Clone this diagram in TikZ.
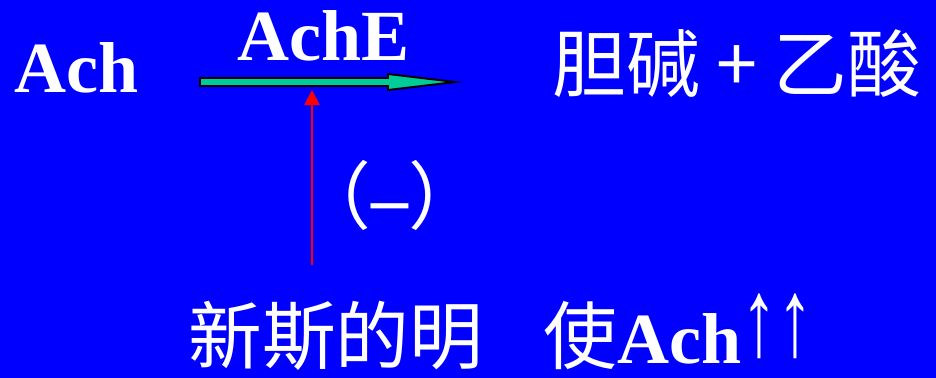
\documentclass[tikz,border=0pt]{standalone}
\usepackage{fontspec}
\setmainfont{Liberation Serif}
\newfontfamily\cjk{Noto Sans CJK SC}
\usepackage{xcolor}
\usepackage{graphicx}
\usepackage{tikz}
\usetikzlibrary{positioning}
\usetikzlibrary{arrows.meta}
\pgfdeclarelayer{backlayer}
\pgfdeclarelayer{nodelayer}
\pgfdeclarelayer{edgelayer}
\pgfsetlayers{backlayer,nodelayer,edgelayer,main}
\definecolor{slideblue}{RGB}{0,0,255}
\definecolor{arrowgreen}{RGB}{0,204,153}
\newcommand{\latbig}{\fontsize{41}{50}\selectfont\bfseries}
\newcommand{\cjkbig}{\fontsize{42}{50}\selectfont\cjk}
\newcommand{\uparrows}{\raisebox{0.15cm}{\scalebox{0.85}[1.3]{\rmfamily\fontsize{48}{56}\selectfont ↑↑}}}
\tikzset{
    none/.style = {inner sep=0pt, text=white},
    fatarrow/.style = {fill=arrowgreen, draw=black, line width=1.1pt, line join=miter},
    inhibit/.style = {draw=red, line width=1.1pt, -{Triangle[length=0.3cm,width=0.3cm]}}
}

\begin{document}
\begin{tikzpicture}[scale=2]
  \begin{pgfonlayer}{backlayer}
    \fill[slideblue] (0,0) rectangle (9.36,-3.78);
  \end{pgfonlayer}
  \useasboundingbox (0,0) rectangle (9.36,-3.78);
  \begin{pgfonlayer}{nodelayer}
    \node [style=none, anchor=base west] (0) at (0.14, -0.92) {\latbig Ach};
    \node [style=none, anchor=base west] (1) at (2.37, -0.60) {\latbig AchE};
    \node [style=none, anchor=base west] (2) at (5.52, -0.91) {\cjkbig 胆碱 + 乙酸};
    \node [style=none] (3) at (3.90, -1.95) {\cjkbig （{\rmfamily\bfseries –}）};
    \node [style=none, anchor=base west] (4) at (1.88, -3.63) {\cjkbig 新斯的明\hspace{1.2cm}使{\rmfamily\latbig Ach}\uparrows};
    \coordinate (5) at (2.00, -0.82);
    \coordinate (6) at (4.55, -0.82);
    \coordinate (7) at (3.12, -2.65);
    \coordinate (8) at (3.12, -0.90);
  \end{pgfonlayer}
  \begin{pgfonlayer}{edgelayer}
    \draw [style=fatarrow] (5) ++(0, 0.04) -- ++(1.88, 0) -- ++(0, 0.04) -- (6)
      -- ++(-0.67, -0.08) -- ++(0, 0.04) -- ++(-1.88, 0) -- cycle;
    \draw [style=inhibit] (7) to (8);
  \end{pgfonlayer}
\end{tikzpicture}
\end{document}
